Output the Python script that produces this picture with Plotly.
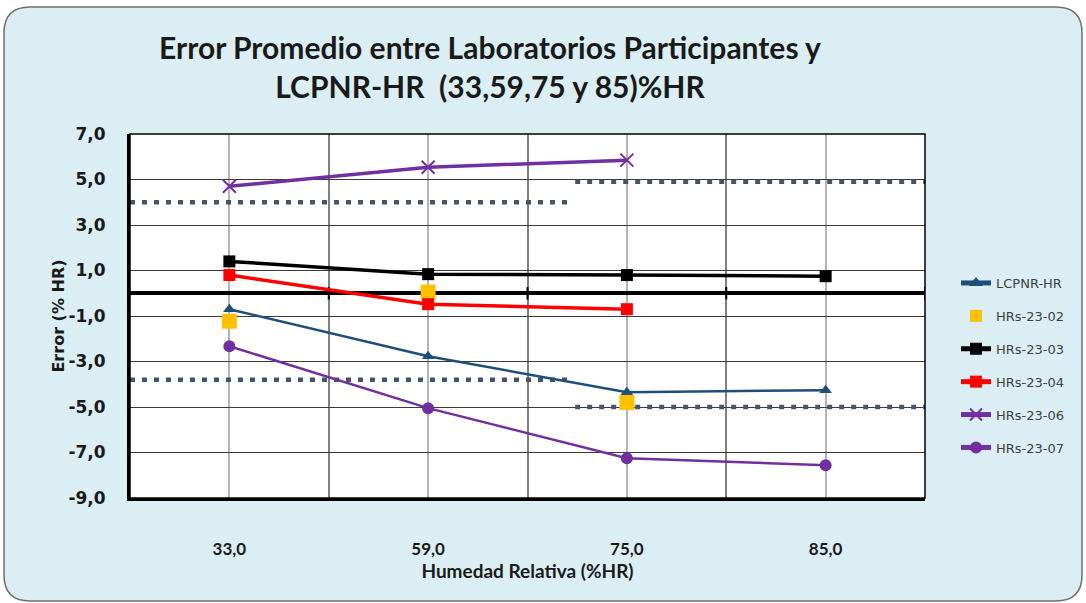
import plotly.graph_objects as go

# ---------------- data ----------------
categories = ["33,0", "59,0", "75,0", "85,0"]
x_pos = [0, 1, 2, 3]

lcpnr_hr = [-0.70, -2.77, -4.35, -4.26]
hrs_23_02 = [-1.23, 0.05, -4.80, None]
hrs_23_03 = [1.40, 0.84, 0.80, 0.75]
hrs_23_04 = [0.80, -0.48, -0.70, None]
hrs_23_06 = [4.70, 5.54, 5.85, None]
hrs_23_07 = [-2.33, -5.05, -7.25, -7.56]

# acceptance limits (category-axis spans and values)
lim_left_span = [-0.5, 1.70]
lim_right_span = [1.74, 3.5]
lim_upper_left, lim_upper_right = 4.0, 4.9
lim_lower_left, lim_lower_right = -3.8, -5.0

y_ticks = [-9, -7, -5, -3, -1, 1, 3, 5, 7]
y_tick_labels = ["-9,0", "-7,0", "-5,0", "-3,0", "-1,0", "1,0", "3,0", "5,0", "7,0"]

# ---------------- geometry helpers ----------------
W, H = 1086, 603
L, R, T, B = 130, 925, 134, 498


def px(x):
    return (x - L) / (R - L)


def py(y):
    return (B - y) / (B - T)


fig = go.Figure()

dot = "5px,7px"
lim_col = "#44546A"
for span, val in [(lim_left_span, lim_upper_left), (lim_right_span, lim_upper_right),
                  (lim_left_span, lim_lower_left), (lim_right_span, lim_lower_right)]:
    fig.add_trace(go.Scatter(x=span, y=[val, val], mode="lines",
                             line=dict(color=lim_col, width=4.5, dash=dot),
                             showlegend=False, hoverinfo="skip"))

# zero-line tick marks at category boundaries
fig.add_trace(go.Scatter(x=[0.5, 1.5, 2.5, 3.5], y=[0, 0, 0, 0], mode="markers",
                         marker=dict(symbol="line-ns", size=9,
                                     line=dict(color="black", width=2)),
                         showlegend=False, hoverinfo="skip"))

series = [
    ("LCPNR-HR", lcpnr_hr, "lines+markers", "#1F4E7A", "triangle-up", 11, 2.5),
    ("HRs-23-02", hrs_23_02, "markers", "#FFC000", "square", 15, 0),
    ("HRs-23-03", hrs_23_03, "lines+markers", "#000000", "square", 12, 3.5),
    ("HRs-23-04", hrs_23_04, "lines+markers", "#FF0000", "square", 12, 3.5),
    ("HRs-23-06", hrs_23_06, "lines+markers", "#7030A0", "x-thin", 13, 3.5),
    ("HRs-23-07", hrs_23_07, "lines+markers", "#7030A0", "circle", 12, 2.5),
]
for name, vals, mode, col, sym, size, lw in series:
    marker = dict(symbol=sym, size=size, color=col)
    if sym == "x-thin":
        marker["line"] = dict(color=col, width=2)
    fig.add_trace(go.Scatter(
        x=x_pos, y=vals, name=name, mode=mode, legendgroup=name,
        line=dict(color=col, width=lw) if lw else None,
        marker=marker, connectgaps=False,
    ))

# ---------------- background (rounded panel) ----------------
x0, x1, y0, y1, r = 4, 1082, 7, 601, 26
path = (
    f"M {px(x0 + r)},{py(y0)} L {px(x1 - r)},{py(y0)} "
    f"Q {px(x1)},{py(y0)} {px(x1)},{py(y0 + r)} "
    f"L {px(x1)},{py(y1 - r)} Q {px(x1)},{py(y1)} {px(x1 - r)},{py(y1)} "
    f"L {px(x0 + r)},{py(y1)} Q {px(x0)},{py(y1)} {px(x0)},{py(y1 - r)} "
    f"L {px(x0)},{py(y0 + r)} Q {px(x0)},{py(y0)} {px(x0 + r)},{py(y0)} Z"
)
shapes = [
    dict(type="path", xref="paper", yref="paper", path=path, layer="below",
         fillcolor="#DAEEF3", line=dict(color="#6F6F6F", width=1.5)),
    dict(type="rect", xref="paper", yref="paper", x0=0, x1=1, y0=0, y1=1,
         layer="below", fillcolor="white", line=dict(width=0)),
    dict(type="rect", xref="paper", yref="paper", x0=0, x1=1, y0=0, y1=1,
         layer="above", fillcolor="rgba(0,0,0,0)", line=dict(color="black", width=1.5)),
]

fig.update_layout(
    width=W, height=H,
    margin=dict(l=L, r=W - R, t=T, b=H - B, autoexpand=False),
    paper_bgcolor="white", plot_bgcolor="white",
    separators=",.",
    shapes=shapes,
    title=dict(
        text="Error Promedio entre Laboratorios Participantes y<br>LCPNR-HR  (33,59,75 y 85)%HR",
        x=490 / W, xanchor="center", y=1 - 59 / H, yanchor="top",
        font=dict(family="Lato", size=30, color="#1A1A1A", weight="bold"),
    ),
    legend=dict(
        x=px(956), xanchor="left", y=py(268), yanchor="top",
        bgcolor="rgba(0,0,0,0)", tracegroupgap=13, itemsizing="constant",
        font=dict(family="DejaVu Sans", size=13, color="#404040"),
    ),
    xaxis=dict(
        range=[-0.5, 3.5], tickvals=x_pos, ticktext=categories,
        showgrid=True, gridcolor="#B4B4B4", gridwidth=2,
        minor=dict(tickvals=[0.5, 1.5, 2.5], showgrid=True,
                   gridcolor="#808080", gridwidth=2),
        showline=True, linecolor="black", linewidth=3,
        zeroline=False, ticks="", ticklabelstandoff=34,
        tickfont=dict(family="Lato", size=17, color="#1A1A1A", weight="bold"),
        title=dict(text="Humedad Relativa (%HR)", standoff=0,
                   font=dict(family="Lato", size=19, color="#1A1A1A", weight="bold")),
    ),
    yaxis=dict(
        range=[-9, 7], tickvals=y_ticks, ticktext=y_tick_labels,
        showgrid=True, gridcolor="#3A3A3A", gridwidth=1,
        zeroline=True, zerolinecolor="black", zerolinewidth=4,
        showline=True, linecolor="black", linewidth=3,
        ticks="", ticklabelstandoff=18,
        tickfont=dict(family="DejaVu Sans", size=17, color="#1A1A1A", weight="bold"),
        title=dict(text="Error (% HR)", standoff=0,
                   font=dict(family="DejaVu Sans", size=16, color="#1A1A1A", weight="bold")),
    ),
)

fig.write_html("out.html", config={"displayModeBar": False},
               post_script="document.body.style.margin='0';document.body.style.overflow='hidden';")
